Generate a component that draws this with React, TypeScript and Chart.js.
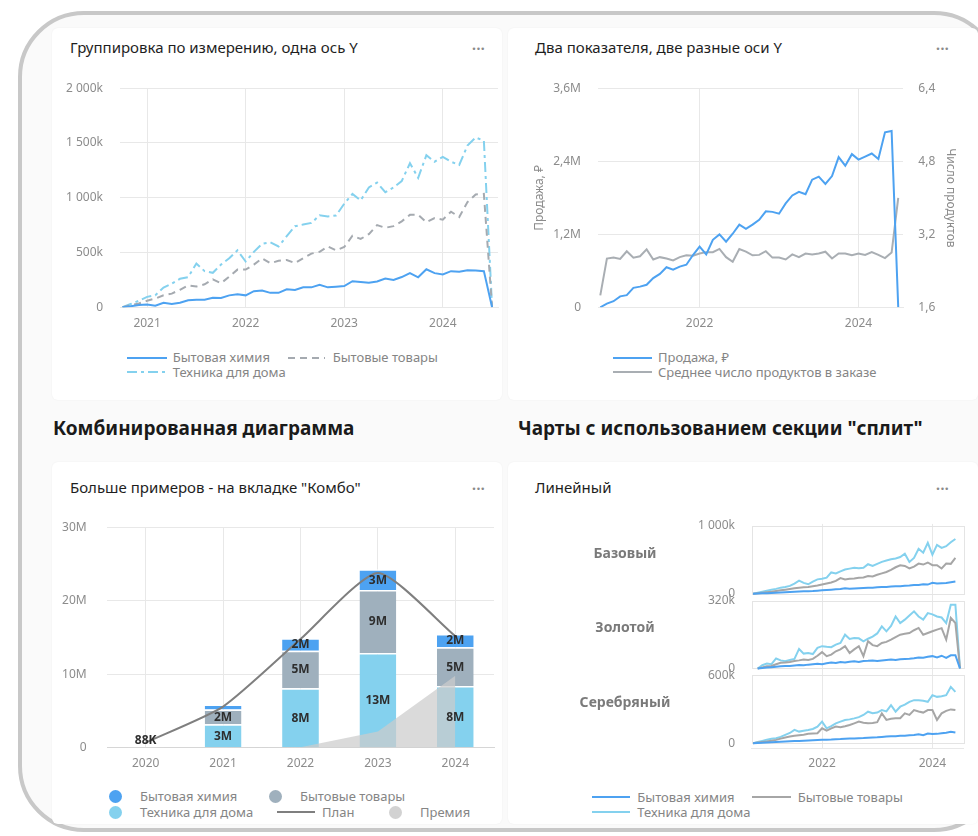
import React, { useEffect, useRef } from 'react';
import { Chart, registerables } from 'chart.js';

Chart.register(...registerables);

const FONT = '"Noto Sans", "Open Sans", sans-serif';
Chart.defaults.font.family = FONT;

// ---------- shared monthly axis ----------
const MONTHS = [
  '2020-10', '2020-11', '2020-12',
  '2021-01', '2021-02', '2021-03', '2021-04', '2021-05', '2021-06', '2021-07', '2021-08', '2021-09', '2021-10', '2021-11', '2021-12',
  '2022-01', '2022-02', '2022-03', '2022-04', '2022-05', '2022-06', '2022-07', '2022-08', '2022-09', '2022-10', '2022-11', '2022-12',
  '2023-01', '2023-02', '2023-03', '2023-04', '2023-05', '2023-06', '2023-07', '2023-08', '2023-09', '2023-10', '2023-11', '2023-12',
  '2024-01', '2024-02', '2024-03', '2024-04', '2024-05', '2024-06', '2024-07',
];
const X_MIN = 2020.725;
const X_MAX = 2024.56;

// ---------- chart 1: one Y axis (values in thousands) ----------
const G1_HIMIYA = [0, 10, 20, 25, 15, 41, 30, 41, 65, 70, 70, 88, 85, 109, 118, 109, 147, 153, 132, 132, 165, 159, 182, 182, 206, 182, 188, 194, 238, 232, 224, 235, 262, 250, 276, 312, 274, 347, 312, 300, 330, 324, 338, 335, 330, 0];
const G1_TOVARY = [0, 20, 35, 60, 80, 110, 125, 160, 200, 190, 210, 255, 220, 280, 344, 344, 390, 447, 403, 424, 432, 403, 447, 490, 506, 556, 520, 550, 653, 624, 668, 750, 726, 741, 785, 844, 844, 776, 815, 800, 873, 824, 960, 1030, 1035, 0];
const G1_TEHNIKA = [0, 30, 60, 95, 110, 180, 215, 260, 275, 400, 330, 315, 390, 447, 520, 418, 506, 580, 594, 555, 650, 740, 755, 770, 840, 830, 838, 945, 1035, 976, 1094, 1138, 1050, 1094, 1153, 1315, 1182, 1388, 1329, 1373, 1329, 1300, 1476, 1550, 1520, 0];
const G1_XTICKS = [2021, 2022, 2023, 2024];
const G1_YTICKS = [0, 500000, 1000000, 1500000, 2000000];

// ---------- chart 2: two Y axes ----------
const G2_SALES = [0, 0.06, 0.1, 0.18, 0.2, 0.32, 0.34, 0.37, 0.48, 0.55, 0.66, 0.62, 0.67, 0.7, 0.86, 1.0, 0.87, 1.11, 1.2, 1.08, 1.21, 1.36, 1.29, 1.36, 1.44, 1.58, 1.57, 1.54, 1.71, 1.84, 1.9, 1.86, 2.1, 2.15, 2.03, 2.16, 2.47, 2.33, 2.52, 2.43, 2.48, 2.53, 2.44, 2.88, 2.9, 0];
const G2_AVG = [1.86, 2.67, 2.69, 2.66, 2.83, 2.69, 2.72, 2.87, 2.65, 2.7, 2.67, 2.63, 2.7, 2.74, 2.73, 2.78, 2.81, 2.81, 2.88, 2.7, 2.6, 2.88, 2.82, 2.74, 2.75, 2.83, 2.69, 2.69, 2.65, 2.76, 2.7, 2.78, 2.76, 2.78, 2.82, 2.67, 2.78, 2.78, 2.74, 2.78, 2.75, 2.81, 2.75, 2.68, 2.8, 4.0];
const G2_XTICKS = [2022, 2024];
const G2_LEFT_TICKS = [0, 1.2, 2.4, 3.6];
const G2_RIGHT_TICKS = [1.6, 3.2, 4.8, 6.4];

// ---------- chart 3: combo ----------
const COMBO_YEARS = ['2020', '2021', '2022', '2023', '2024'];
const COMBO_TEHNIKA = [0.088, 3.2, 8.1, 12.9, 8.4];
const COMBO_TOVARY = [0, 2.0, 5.1, 8.6, 5.3];
const COMBO_HIMIYA = [0, 0.7, 1.7, 2.8, 1.8];
const COMBO_TEHNIKA_LABELS = ['88K', '3M', '8M', '13M', '8M'];
const COMBO_TOVARY_LABELS = ['', '2M', '5M', '9M', '5M'];
const COMBO_HIMIYA_LABELS = ['', '', '2M', '3M', '2M'];
const COMBO_PLAN = [0.7, 5.6, 14.8, 23.8, 15.2];
const COMBO_PREMIYA = [0, 0, 0.05, 2.2, 9.8];
const COMBO_YTICKS = [0, 10, 20, 30];

// ---------- chart 4: split ----------
const SPLIT_GROUPS = ['Базовый', 'Золотой', 'Серебряный'];
const SPLIT_MAX = [1000000, 320000, 600000];
const SPLIT_XTICKS = [2022, 2024];
const BASE_HIMIYA = [0, 3, 6, 9, 12, 15, 18, 22, 25, 28, 32, 35, 38, 40, 45, 50, 55, 60, 65, 70, 80, 72, 76, 80, 84, 88, 90, 95, 98, 100, 105, 110, 112, 118, 122, 128, 130, 140, 135, 160, 150, 155, 158, 168, 179, null];
const BASE_TOVARY = [0, 8, 15, 22, 30, 40, 50, 60, 70, 80, 90, 95, 100, 110, 120, 135, 150, 165, 190, 230, 210, 220, 225, 235, 240, 260, 255, 280, 300, 320, 350, 390, 420, 410, 372, 400, 444, 430, 460, 420, 420, 372, 444, 440, 527, null];
const BASE_TEHNIKA = [0, 15, 30, 45, 60, 72, 90, 100, 116, 150, 193, 160, 140, 180, 212, 220, 237, 314, 300, 330, 357, 370, 382, 375, 382, 435, 410, 440, 470, 490, 507, 520, 541, 589, 469, 527, 662, 604, 749, 575, 720, 676, 700, 758, 807, null];
const GOLD_HIMIYA = [null, 0, 2, 4, 6, 8, 10, 12, 12, 14, 16, 15, 18, 20, 22, 20, 24, 28, 26, 30, 28, 32, 34, 30, 35, 36, 38, 35, 38, 40, 42, 40, 43, 45, 46, 48, 52, 50, 55, 58, 52, 60, 50, 62, 62, 0];
const GOLD_TOVARY = [null, 0, 5, 10, 12, 20, 27, 28, 30, 35, 38, 42, 40, 45, 60, 77, 58, 65, 81, 90, 105, 73, 90, 105, 58, 128, 110, 105, 120, 125, 136, 148, 159, 163, 167, 180, 191, 159, 167, 175, 183, 190, 136, 238, 214, 0];
const GOLD_TEHNIKA = [null, 0, 15, 23, 20, 47, 38, 34, 40, 45, 92, 70, 73, 68, 97, 105, 102, 100, 112, 120, 159, 139, 143, 142, 128, 140, 150, 165, 198, 175, 200, 245, 214, 230, 250, 269, 245, 230, 261, 255, 245, 240, 214, 300, 300, 0];
const SILVER_HIMIYA = [0, 2, 4, 6, 8, 10, 12, 14, 16, 18, 20, 22, 24, 26, 28, 30, 30, 32, 35, 36, 38, 40, 42, 44, 45, 48, 50, 52, 55, 58, 60, 62, 65, 66, 70, 72, 78, 70, 85, 80, 82, 88, 92, 100, 94, null];
const SILVER_TOVARY = [0, 5, 10, 15, 22, 29, 40, 50, 58, 65, 70, 75, 82, 85, 88, 131, 111, 130, 146, 140, 150, 161, 175, 190, 180, 175, 178, 185, 263, 205, 215, 219, 220, 263, 250, 292, 280, 270, 292, 292, 205, 263, 285, 298, 292, null];
const SILVER_TEHNIKA = [0, 10, 20, 30, 38, 44, 55, 73, 90, 117, 102, 110, 117, 125, 146, 190, 131, 150, 175, 190, 205, 210, 219, 230, 249, 278, 265, 270, 292, 280, 336, 278, 322, 340, 365, 380, 378, 375, 365, 424, 409, 415, 424, 497, 453, null];

// ---------- styles ----------
const C_BLUE = '#4da2f1';
const C_LIGHT = '#84d1ee';
const C_GREY = '#a5aab0';
const C_BAR_GREY = '#9fb0bd';
const C_GREY4 = '#a6a6a6';
const C_PLAN = '#7f7f7f';
const TICK_COLOR = '#8c8c8c';
const GRID = '#e8e8e8';
const TICK_FONT = { family: FONT, size: 12 };

const toYear = (s: string) => {
  const [y, m] = s.split('-').map(Number);
  return y + (m - 1) / 12;
};
const pts = (vals: (number | null)[], k: number) =>
  MONTHS.map((m, i) => ({ x: toYear(m), y: vals[i] == null ? null : (vals[i] as number) * k }));
const thousands = (n: number) => String(n).replace(/\B(?=(\d{3})+(?!\d))/g, ' ');
const fmtK = (v: number) => (v === 0 ? '0' : thousands(Math.round(v / 1000)) + 'k');
const setTicks = (vals: number[]) => (s: any) => {
  s.ticks = vals.map((v) => ({ value: v }));
};

const xTime = (ticks: number[], pad: number, height: number) => ({
  type: 'linear',
  min: X_MIN,
  max: X_MAX,
  afterBuildTicks: setTicks(ticks),
  afterFit: (s: any) => {
    s.height = height;
  },
  ticks: { color: TICK_COLOR, font: TICK_FONT, padding: pad, maxRotation: 0, autoSkip: false, callback: (v: any) => String(v) },
  grid: { color: GRID, drawTicks: false },
  border: { display: true, color: GRID },
});

const baseOptions = (padding: any) => ({
  animation: false,
  responsive: false,
  maintainAspectRatio: false,
  layout: { padding },
  plugins: { legend: { display: false }, tooltip: { enabled: false } },
});

function makeChart1(): any {
  const line = (label: string, vals: number[], color: string, dash: number[]) => ({
    label,
    data: pts(vals, 1000),
    borderColor: color,
    borderWidth: 2,
    borderDash: dash,
    pointRadius: 0,
    tension: 0,
  });
  return {
    type: 'line',
    data: {
      datasets: [
        line('Бытовая химия', G1_HIMIYA, C_BLUE, []),
        line('Бытовые товары', G1_TOVARY, C_GREY, [7, 5]),
        line('Техника для дома', G1_TEHNIKA, C_LIGHT, [10, 4, 3, 4]),
      ],
    },
    options: {
      ...baseOptions({ top: 16.7, right: 2, left: 0, bottom: 0 }),
      scales: {
        x: xTime(G1_XTICKS, 9, 30.7),
        y: {
          min: 0,
          max: 2000000,
          afterBuildTicks: setTicks(G1_YTICKS),
          afterFit: (s: any) => {
            s.width = 68;
          },
          ticks: { color: TICK_COLOR, font: TICK_FONT, padding: 17, callback: (v: any) => fmtK(v) },
          grid: { color: GRID, drawTicks: false },
          border: { display: false },
        },
      },
    },
  };
}

function makeChart2(): any {
  return {
    type: 'line',
    data: {
      datasets: [
        { label: 'Продажа, ₽', data: pts(G2_SALES, 1), borderColor: C_BLUE, borderWidth: 2, pointRadius: 0, yAxisID: 'y' },
        { label: 'Среднее число продуктов в заказе', data: pts(G2_AVG, 1), borderColor: '#a9aeb3', borderWidth: 2, pointRadius: 0, yAxisID: 'y1' },
      ],
    },
    options: {
      ...baseOptions({ top: 16, right: 0, left: 0, bottom: 0 }),
      scales: {
        x: xTime(G2_XTICKS, 9, 30.7),
        y: {
          position: 'left',
          min: 0,
          max: 3.6,
          afterBuildTicks: setTicks(G2_LEFT_TICKS),
          afterFit: (s: any) => {
            s.width = 93.3;
          },
          ticks: { color: TICK_COLOR, font: TICK_FONT, padding: 17.3, callback: (v: any) => (v === 0 ? '0' : Number(v).toFixed(1).replace('.', ',') + 'M') },
          grid: { color: GRID, drawTicks: false },
          border: { display: false },
          title: { display: true, text: 'Продажа, ₽', color: TICK_COLOR, font: TICK_FONT, padding: { top: 27, bottom: 0 } },
        },
        y1: {
          position: 'right',
          min: 1.6,
          max: 6.4,
          afterBuildTicks: setTicks(G2_RIGHT_TICKS),
          afterFit: (s: any) => {
            s.width = 72;
          },
          ticks: { color: TICK_COLOR, font: TICK_FONT, padding: 15.3, callback: (v: any) => Number(v).toFixed(1).replace('.', ',') },
          grid: { drawOnChartArea: false, drawTicks: false },
          border: { display: false },
          title: { display: true, text: 'Число продуктов', color: TICK_COLOR, font: TICK_FONT, padding: { top: 17.8, bottom: 0 } },
        },
      },
    },
  };
}

const comboLabels = {
  id: 'comboLabels',
  afterDatasetsDraw(chart: any) {
    const ctx = chart.ctx;
    ctx.save();
    ctx.font = `bold 12px ${FONT}`;
    ctx.fillStyle = '#2e2e2e';
    ctx.textAlign = 'center';
    ctx.textBaseline = 'middle';
    chart.data.datasets.forEach((ds: any, di: number) => {
      if (!ds.segLabels) return;
      const meta = chart.getDatasetMeta(di);
      meta.data.forEach((el: any, i: number) => {
        const t = ds.segLabels[i];
        if (!t) return;
        const { x, y, base } = el.getProps(['x', 'y', 'base'], true);
        const h = Math.abs(base - y);
        ctx.fillText(t, x, h >= 9 ? (y + base) / 2 + 0.5 : y - 6);
      });
    });
    ctx.restore();
  },
};

function makeChart3(): any {
  const bar = (label: string, vals: number[], color: string, labels: string[]) => ({
    type: 'bar',
    label,
    data: vals,
    backgroundColor: color,
    borderColor: '#ffffff',
    borderWidth: { top: 1.5, left: 0, right: 0, bottom: 0 },
    borderSkipped: false,
    stack: 'bars',
    order: 2,
    categoryPercentage: 0.475,
    barPercentage: 1,
    segLabels: labels,
  });
  return {
    type: 'bar',
    data: {
      labels: COMBO_YEARS,
      datasets: [
        { type: 'line', label: 'План', data: COMBO_PLAN, borderColor: C_PLAN, borderWidth: 2, pointRadius: 0, tension: 0.2, order: 0, stack: 'plan' },
        { type: 'line', label: 'Премия', data: COMBO_PREMIYA, borderWidth: 0, borderColor: 'rgba(0,0,0,0)', backgroundColor: 'rgba(204,204,204,0.72)', fill: 'origin', pointRadius: 0, tension: 0, order: 1, stack: 'prem' },
        bar('Техника для дома', COMBO_TEHNIKA, C_LIGHT, COMBO_TEHNIKA_LABELS),
        bar('Бытовые товары', COMBO_TOVARY, C_BAR_GREY, COMBO_TOVARY_LABELS),
        bar('Бытовая химия', COMBO_HIMIYA, C_BLUE, COMBO_HIMIYA_LABELS),
      ],
    },
    options: {
      ...baseOptions({ top: 19.3, right: 6, left: 0, bottom: 0 }),
      scales: {
        x: {
          stacked: true,
          offset: true,
          afterFit: (s: any) => {
            s.height = 32.3;
          },
          ticks: { color: TICK_COLOR, font: TICK_FONT, padding: 8.4, maxRotation: 0 },
          grid: { color: GRID, drawTicks: false, offset: false },
          border: { display: true, color: '#d6d6d6' },
        },
        y: {
          stacked: true,
          min: 0,
          max: 30,
          afterBuildTicks: setTicks(COMBO_YTICKS),
          afterFit: (s: any) => {
            s.width = 55;
          },
          ticks: { color: TICK_COLOR, font: TICK_FONT, padding: 20.3, callback: (v: any) => (v === 0 ? '0' : v + 'M') },
          grid: { color: GRID, drawTicks: false },
          border: { display: false },
        },
      },
    },
    plugins: [comboLabels],
  };
}

const SPLIT_AXES = ['yBase', 'yGold', 'ySilver'];

const splitDecor = {
  id: 'splitDecor',
  beforeDatasetsDraw(chart: any) {
    const ctx = chart.ctx;
    const { left, right } = chart.chartArea;
    ctx.save();
    ctx.strokeStyle = '#e4e4e4';
    ctx.lineWidth = 1;
    SPLIT_AXES.forEach((id, i) => {
      const s = chart.scales[id];
      const t = Math.round(s.getPixelForValue(SPLIT_MAX[i])) + 0.5;
      const b = Math.round(s.getPixelForValue(0)) + 0.5;
      ctx.strokeRect(Math.round(left) + 0.5, t, Math.round(right - left), b - t);
    });
    ctx.restore();
  },
  afterDraw(chart: any) {
    const ctx = chart.ctx;
    ctx.save();
    ctx.font = `bold 14px ${FONT}`;
    ctx.fillStyle = '#7a7a7a';
    ctx.textAlign = 'center';
    ctx.textBaseline = 'middle';
    SPLIT_AXES.forEach((id, i) => {
      const s = chart.scales[id];
      const cy = (s.getPixelForValue(SPLIT_MAX[i]) + s.getPixelForValue(0)) / 2 - 6;
      ctx.fillText(SPLIT_GROUPS[i], 120, cy);
    });
    ctx.restore();
  },
};

function makeChart4(): any {
  const groups = [
    [BASE_HIMIYA, BASE_TOVARY, BASE_TEHNIKA],
    [GOLD_HIMIYA, GOLD_TOVARY, GOLD_TEHNIKA],
    [SILVER_HIMIYA, SILVER_TOVARY, SILVER_TEHNIKA],
  ];
  const names = ['Бытовая химия', 'Бытовые товары', 'Техника для дома'];
  const colors = [C_BLUE, C_GREY4, C_LIGHT];
  const datasets: any[] = [];
  groups.forEach((g, gi) =>
    g.forEach((vals, si) =>
      datasets.push({
        label: names[si],
        data: pts(vals as (number | null)[], 1000),
        borderColor: colors[si],
        borderWidth: 2,
        pointRadius: 0,
        tension: 0,
        yAxisID: SPLIT_AXES[gi],
      })
    )
  );
  const scales: any = { x: { ...xTime(SPLIT_XTICKS, 8.1, 32) } };
  SPLIT_AXES.forEach((id, i) => {
    const M = SPLIT_MAX[i];
    scales[id] = {
      position: 'left',
      stack: 'split',
      stackWeight: 1,
      weight: 3 - i,
      min: (-M * 5) / 70,
      max: (M * 72) / 70,
      afterBuildTicks: setTicks([0, M]),
      afterFit: (s: any) => {
        s.width = 246.7;
      },
      ticks: { color: TICK_COLOR, font: TICK_FONT, padding: 16.7, callback: (v: any) => fmtK(v) },
      grid: { display: false, drawTicks: false },
      border: { display: false },
    };
  });
  return {
    type: 'line',
    data: { datasets },
    options: {
      ...baseOptions({ top: 17, right: 11.7, left: 0, bottom: 0 }),
      scales,
    },
    plugins: [splitDecor],
  };
}

function ChartBox({ left, top, width, height, make }: { left: number; top: number; width: number; height: number; make: () => any }) {
  const ref = useRef<HTMLCanvasElement | null>(null);
  useEffect(() => {
    const c = new Chart(ref.current as HTMLCanvasElement, make());
    return () => c.destroy();
  }, []);
  return <canvas ref={ref} width={width} height={height} style={{ position: 'absolute', left, top, width, height }} />;
}

const LEGEND_TEXT: React.CSSProperties = {
  position: 'absolute',
  fontSize: 13,
  color: '#858585',
  whiteSpace: 'nowrap',
  lineHeight: '18px',
  fontFamily: FONT,
};

function LegLine({ x, w, y, tx, color, dash, text }: { x: number; w: number; y: number; tx: number; color: string; dash?: string; text: string }) {
  return (
    <>
      <svg style={{ position: 'absolute', left: x, top: y - 2 }} width={w} height={4}>
        <line x1={0} y1={2} x2={w} y2={2} stroke={color} strokeWidth={2} strokeDasharray={dash} />
      </svg>
      <div style={{ ...LEGEND_TEXT, left: tx, top: y - 9.5 }}>{text}</div>
    </>
  );
}

function LegDot({ cx, y, tx, color, text }: { cx: number; y: number; tx: number; color: string; text: string }) {
  return (
    <>
      <div style={{ position: 'absolute', left: cx - 6.5, top: y - 6.5, width: 13, height: 13, borderRadius: '50%', background: color }} />
      <div style={{ ...LEGEND_TEXT, left: tx, top: y - 9.5 }}>{text}</div>
    </>
  );
}

const CARD: React.CSSProperties = {
  position: 'absolute',
  background: '#ffffff',
  borderRadius: 6,
  boxShadow: '0 0 2px rgba(0,0,0,0.05)',
};
const CARD_TITLE: React.CSSProperties = {
  position: 'absolute',
  fontSize: 15,
  color: '#1e1e1e',
  lineHeight: '20px',
  whiteSpace: 'nowrap',
  fontFamily: FONT,
};
const DOTS: React.CSSProperties = {
  position: 'absolute',
  fontSize: 14,
  color: '#8a8a8a',
  lineHeight: '20px',
  fontWeight: 700,
  letterSpacing: 0.5,
  fontFamily: FONT,
};
const HEADING: React.CSSProperties = {
  position: 'absolute',
  fontSize: 19,
  fontWeight: 700,
  color: '#1a1a1a',
  lineHeight: '24px',
  whiteSpace: 'nowrap',
  fontFamily: FONT,
};

export default function App() {
  useEffect(() => {
    document.body.style.margin = '0';
  }, []);
  return (
    <div style={{ position: 'absolute', left: 0, top: 0, width: 978, height: 836, overflow: 'hidden', background: '#ffffff', fontFamily: FONT }}>
      <div
        style={{
          position: 'absolute',
          left: 18,
          top: 11,
          width: 982,
          height: 821,
          boxSizing: 'border-box',
          border: '4px solid #c8c8c8',
          borderRadius: 66,
          background: '#fafafa',
        }}
      />
      <div style={{ ...CARD, left: 52, top: 28, width: 450, height: 372 }} />
      <div style={{ ...CARD, left: 508, top: 28, width: 470, height: 372 }} />
      <div style={{ ...CARD, left: 52, top: 462, width: 450, height: 362 }} />
      <div style={{ ...CARD, left: 508, top: 462, width: 470, height: 362 }} />

      <div style={{ ...CARD_TITLE, left: 70, top: 37 }}>Группировка по измерению, одна ось Y</div>
      <div style={{ ...DOTS, left: 472, top: 35 }}>...</div>
      <div style={{ ...CARD_TITLE, left: 535, top: 37 }}>Два показателя, две разные оси Y</div>
      <div style={{ ...DOTS, left: 936, top: 35 }}>...</div>

      <div style={{ ...HEADING, left: 53, top: 416 }}>Комбинированная диаграмма</div>
      <div style={{ ...HEADING, left: 518, top: 416 }}>Чарты с использованием секции "сплит"</div>

      <div style={{ ...CARD_TITLE, left: 70, top: 477 }}>Больше примеров - на вкладке "Комбо"</div>
      <div style={{ ...DOTS, left: 472, top: 475 }}>...</div>
      <div style={{ ...CARD_TITLE, left: 535, top: 477 }}>Линейный</div>
      <div style={{ ...DOTS, left: 936, top: 475 }}>...</div>

      <ChartBox left={52} top={64} width={448} height={274} make={makeChart1} />
      <ChartBox left={505} top={64} width={470} height={274} make={makeChart2} />
      <ChartBox left={52} top={500} width={448} height={280} make={makeChart3} />
      <ChartBox left={505} top={500} width={470} height={280} make={makeChart4} />

      {/* legend 1 */}
      <LegLine x={127} w={40} y={357.7} tx={172.7} color={C_BLUE} text="Бытовая химия" />
      <LegLine x={288} w={37} y={357.7} tx={332.7} color={C_GREY} dash="7 5" text="Бытовые товары" />
      <LegLine x={127} w={40} y={372.3} tx={172.7} color={C_LIGHT} dash="10 4 3 4" text="Техника для дома" />

      {/* legend 2 */}
      <LegLine x={613} w={39} y={357.7} tx={658} color={C_BLUE} text="Продажа, ₽" />
      <LegLine x={613} w={39} y={372.3} tx={658} color="#a9aeb3" text="Среднее число продуктов в заказе" />

      {/* legend 3 */}
      <LegDot cx={115} y={796.7} tx={140} color={C_BLUE} text="Бытовая химия" />
      <LegDot cx={275} y={796.7} tx={300} color={C_BAR_GREY} text="Бытовые товары" />
      <LegDot cx={115} y={812.3} tx={140} color={C_LIGHT} text="Техника для дома" />
      <LegLine x={277} w={38} y={812.3} tx={322} color={C_PLAN} text="План" />
      <LegDot cx={395} y={812.3} tx={420} color="#d2d2d2" text="Премия" />

      {/* legend 4 */}
      <LegLine x={592} w={38} y={797.3} tx={637.3} color={C_BLUE} text="Бытовая химия" />
      <LegLine x={752} w={39} y={797.3} tx={797.7} color={C_GREY4} text="Бытовые товары" />
      <LegLine x={592} w={38} y={812.3} tx={637.3} color={C_LIGHT} text="Техника для дома" />
    </div>
  );
}
